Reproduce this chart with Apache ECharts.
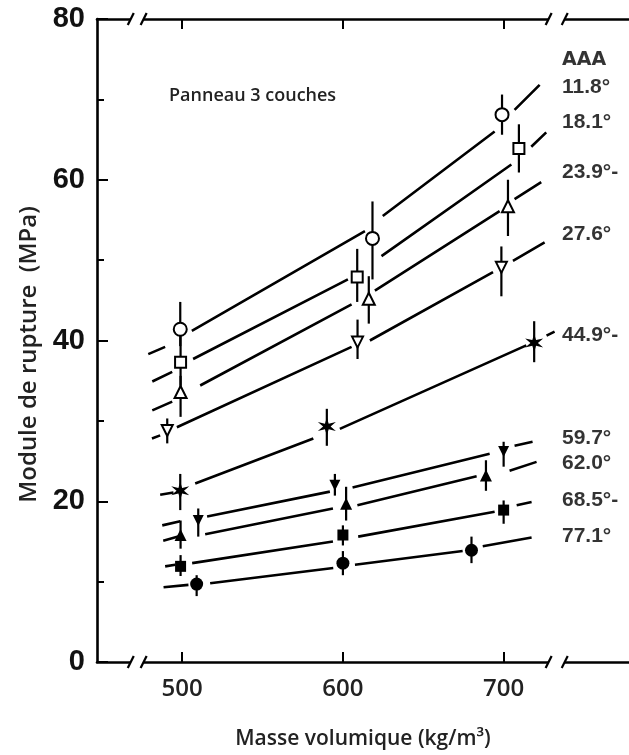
<!DOCTYPE html>
<html><head><meta charset="utf-8">
<script src="https://cdn.jsdelivr.net/npm/echarts@6/dist/echarts.min.js"></script>
<style>html,body{margin:0;padding:0;background:#fff}#c{width:629px;height:755px}</style>
</head><body><div id="c"></div>
<script>
// ---- data ----
const angleLabels = ['11.8°', '18.1°', '23.9°-', '27.6°', '44.9°-', '59.7°', '62.0°', '68.5°-', '77.1°'];
const angleLabelY = [71.5, 67.1, 60.9, 53.2, 40.7, 27.8, 24.7, 20.1, 15.6];
const headerLabel = 'AAA';
const headerY = 74.9;
const labelX = 736;
const xTicks = [500, 600, 700];
const xBreaks = [[468, 476], [728, 738]];

// measured points: x, y, upper, lower
const pts11_8 = { x: [498.8, 618.4, 699.0], y: [41.4, 52.7, 68.1], hi: [44.8, 57.3, 70.6], lo: [39.3, 47.6, 65.6] };
const pts18_1 = { x: [499.0, 608.9, 709.5], y: [37.3, 47.9, 63.9], hi: [41.0, 51.4, 66.9], lo: [34.4, 44.8, 60.9] };
const pts23_9 = { x: [499.0, 616.1, 702.7], y: [33.6, 45.2, 56.7], hi: [35.6, 48.0, 60.0], lo: [30.5, 42.1, 53.0] };
const pts27_6 = { x: [490.7, 609.1, 698.6], y: [28.8, 39.8, 49.1], hi: [30.3, 42.6, 51.7], lo: [27.2, 37.7, 45.5] };
const pts44_9 = { x: [498.8, 590.0, 719.0], y: [21.3, 29.3, 39.7], hi: [23.4, 31.5, 42.4], lo: [18.9, 26.9, 37.3] };
const pts59_7 = { x: [510.0, 595.0, 700.0], y: [17.6, 22.0, 26.2], hi: [19.1, 23.4, 27.4], lo: [15.6, 20.7, 24.3] };
const pts62_0 = { x: [499.0, 602.0, 689.0], y: [15.8, 19.7, 23.2], hi: [17.6, 21.8, 25.1], lo: [14.1, 17.6, 21.3] };
const pts68_5 = { x: [499.0, 600.0, 700.0], y: [11.9, 15.8, 18.9], hi: [13.3, 17.0, 20.1], lo: [10.7, 14.5, 17.2] };
const pts77_1 = { x: [509.0, 600.0, 680.0], y: [9.7, 12.3, 13.9], hi: [10.8, 13.8, 15.6], lo: [8.2, 10.8, 12.3] };

// fitted curves, drawn as segments (gaps around the markers)
const fit11_8 = [[[478.9, 38.3], [489.4, 39.2]], [[506.0, 41.2], [613.7, 53.6]], [[624.8, 55.5], [694.4, 66.0]], [[706.8, 68.7], [722.4, 71.8]]];
const fit18_1 = [[[481.4, 34.9], [493.8, 36.1]], [[506.8, 37.7], [603.1, 47.6]], [[624.0, 50.5], [704.8, 61.9]], [[717.2, 64.1], [726.5, 65.9]]];
const fit23_9 = [[[481.4, 31.3], [493.8, 32.4]], [[511.2, 34.4], [605.4, 44.5]], [[619.9, 46.2], [697.5, 56.1]], [[706.8, 57.6], [723.4, 59.7]]];
const fit27_6 = [[[481.2, 27.8], [486.3, 28.2]], [[496.7, 29.2], [605.4, 39.2]], [[616.8, 40.0], [693.4, 48.5]], [[705.8, 49.9], [725.5, 52.2]]];
const fit44_9 = [[[486.3, 20.8], [494.6, 21.1]], [[508.1, 22.2], [581.6, 27.8]], [[598.1, 29.0], [714.1, 39.4]], [[726.7, 40.6], [731.7, 41.1]]];
const fit59_7 = [[[487.6, 17.0], [498.8, 17.5]], [[515.5, 18.1], [591.9, 21.2]], [[606.0, 21.7], [691.3, 25.9]], [[706.8, 26.9], [718.0, 27.4]]];
const fit62_0 = [[[488.2, 15.1], [497.5, 15.6]], [[514.3, 15.9], [593.8, 19.1]], [[609.0, 19.5], [683.2, 23.1]], [[703.7, 23.8], [720.5, 24.9]]];
const fit68_5 = [[[489.4, 11.9], [495.7, 12.1]], [[506.2, 12.3], [593.8, 15.0]], [[609.5, 15.6], [694.4, 18.7]], [[708.1, 19.5], [717.4, 19.9]]];
const fit77_1 = [[[488.4, 9.3], [503.9, 9.6]], [[517.4, 9.8], [594.0, 11.7]], [[607.5, 12.1], [674.5, 13.8]], [[687.0, 14.4], [717.4, 15.5]]];

const pointSets = [pts11_8, pts18_1, pts23_9, pts27_6, pts44_9, pts59_7, pts62_0, pts68_5, pts77_1];
const fitSets = [fit11_8, fit18_1, fit23_9, fit27_6, fit44_9, fit59_7, fit62_0, fit68_5, fit77_1];

// ---- styling ----
function starPath(n, r1, r2) {
  let d = '';
  for (let i = 0; i < 2 * n; i++) {
    const r = i % 2 ? r2 : r1;
    const a = Math.PI * i / n - Math.PI / 2;
    d += (i ? 'L' : 'M') + (50 + 50 * r * Math.cos(a)).toFixed(1) + ' ' + (50 + 50 * r * Math.sin(a)).toFixed(1);
  }
  return 'path://' + d + 'Z';
}
const markerStyles = [
  { symbol: 'circle', size: 13, filled: false, rot: 0 },
  { symbol: 'rect', size: 11, filled: false, rot: 0 },
  { symbol: 'triangle', size: 12, filled: false, rot: 0 },
  { symbol: 'triangle', size: 11, filled: false, rot: 180 },
  { symbol: starPath(6, 1, 0.36), size: 18, filled: true, rot: 0 },
  { symbol: 'triangle', size: 11, filled: true, rot: 180 },
  { symbol: 'triangle', size: 12, filled: true, rot: 0 },
  { symbol: 'rect', size: 11, filled: true, rot: 0 },
  { symbol: 'circle', size: 13, filled: true, rot: 0 }
];

const series = [];
fitSets.forEach((segs, i) => {
  const data = [];
  segs.forEach((s, k) => { if (k) data.push(null); s.forEach(p => data.push(p)); });
  series.push({ type: 'line', data, showSymbol: false, symbol: 'none', connectNulls: false,
    lineStyle: { color: '#000', width: 2.6 }, z: 2, silent: true, animation: false });
});
pointSets.forEach((p, i) => {
  series.push({ type: 'custom', z: 3, animation: false, silent: true,
    data: p.x.map((x, k) => [x, p.hi[k], p.lo[k]]),
    encode: { x: 0, y: [1, 2] },
    renderItem: (params, api) => {
      const a = api.coord([api.value(0), api.value(1)]);
      const b = api.coord([api.value(0), api.value(2)]);
      return { type: 'line', shape: { x1: a[0], y1: a[1], x2: b[0], y2: b[1] }, style: { stroke: '#000', lineWidth: 2.2 } };
    }
  });
  const m = markerStyles[i];
  series.push({ type: 'scatter', z: 4, animation: false, silent: true,
    data: p.x.map((x, k) => [x, p.y[k]]),
    symbol: m.symbol, symbolSize: m.size, symbolRotate: m.rot,
    itemStyle: { color: m.filled ? '#000' : '#fff', borderColor: '#000', borderWidth: m.filled ? 0 : 2, opacity: 1 }
  });
});
// right-hand labels
series.push({ type: 'scatter', z: 5, animation: false, silent: true, symbolSize: 1,
  itemStyle: { color: 'rgba(0,0,0,0)' },
  data: angleLabels.map((t, i) => ({ value: [labelX, angleLabelY[i]], name: t })),
  label: { show: true, position: 'right', distance: 0, formatter: p => p.name,
    fontFamily: "'Liberation Sans Narrow', 'Liberation Sans', sans-serif", fontWeight: 'bold', fontSize: 21, color: '#000' }
});
series.push({ type: 'scatter', z: 5, animation: false, silent: true, symbolSize: 1,
  itemStyle: { color: 'rgba(0,0,0,0)' },
  data: [{ value: [labelX, headerY], name: headerLabel }],
  label: { show: true, position: 'right', distance: 0, formatter: p => p.name,
    fontFamily: "'DejaVu Sans', sans-serif", fontWeight: 'bold', fontSize: 19, color: '#000' }
});

const axisLine = { show: true, lineStyle: { color: '#000', width: 2.6 } };
const chart = echarts.init(document.getElementById('c'), null, { renderer: 'canvas' });
chart.setOption({
  animation: false,
  backgroundColor: '#fff',
  title: { text: 'Panneau 3 couches', left: 164, top: 82,
    textStyle: { fontFamily: "'Open Sans', sans-serif", fontWeight: 600, fontSize: 18, color: '#222' } },
  grid: { left: 97, right: 0, top: 19, bottom: 91 },
  xAxis: [
    { type: 'value', position: 'bottom', min: 447, max: 778,
      axisLine, splitLine: { show: false },
      axisTick: { show: true, inside: true, length: 10, lineStyle: { color: '#000', width: 2 }, customValues: xTicks },
      axisLabel: { customValues: xTicks, margin: 15, fontFamily: "'Open Sans', sans-serif", fontWeight: 600, fontSize: 24, color: '#222' },
      name: 'Masse volumique (kg/m³)', nameLocation: 'middle', nameGap: 67,
      nameTextStyle: { fontFamily: "'Open Sans', sans-serif", fontWeight: 600, fontSize: 21, color: '#222' } },
    { type: 'value', position: 'top', min: 447, max: 778,
      axisLine, splitLine: { show: false },
      axisTick: { show: true, inside: true, length: 10, lineStyle: { color: '#000', width: 2 }, customValues: xTicks },
      axisLabel: { show: false } }
  ],
  yAxis: { type: 'value', min: 0, max: 80, interval: 20,
    axisLine, splitLine: { show: false },
    axisTick: { show: true, inside: true, length: 11, lineStyle: { color: '#000', width: 2 } },
    minorTick: { show: true, splitNumber: 2, length: 7, lineStyle: { color: '#000', width: 2 } },
    minorSplitLine: { show: false },
    axisLabel: { margin: 12, fontFamily: "'Liberation Sans Narrow', 'Liberation Sans', sans-serif", fontWeight: 'bold', fontSize: 29, color: '#111' },
    name: 'Module de rupture  (MPa)', nameLocation: 'middle', nameGap: 56, nameRotate: 90,
    nameTextStyle: { fontFamily: "'Open Sans', sans-serif", fontWeight: 600, fontSize: 24, color: '#222', padding: [0, 28, 0, 0] } },
  series
});

// axis break marks (//) on the top and bottom axis lines
const els = [];
xBreaks.forEach(([a, b]) => {
  [0, 80].forEach(yv => {
    const pa = chart.convertToPixel({ xAxisIndex: 0, yAxisIndex: 0 }, [a, yv]);
    const pb = chart.convertToPixel({ xAxisIndex: 0, yAxisIndex: 0 }, [b, yv]);
    els.push({ type: 'rect', shape: { x: pa[0], y: pa[1] - 5, width: pb[0] - pa[0], height: 10 }, style: { fill: '#fff' }, z: 100 });
    [pa, pb].forEach(p => els.push({ type: 'line', shape: { x1: p[0] - 3, y1: p[1] + 6, x2: p[0] + 3, y2: p[1] - 6 }, style: { stroke: '#000', lineWidth: 2.2 }, z: 101 }));
  });
});
chart.setOption({ graphic: els });
</script></body></html>
